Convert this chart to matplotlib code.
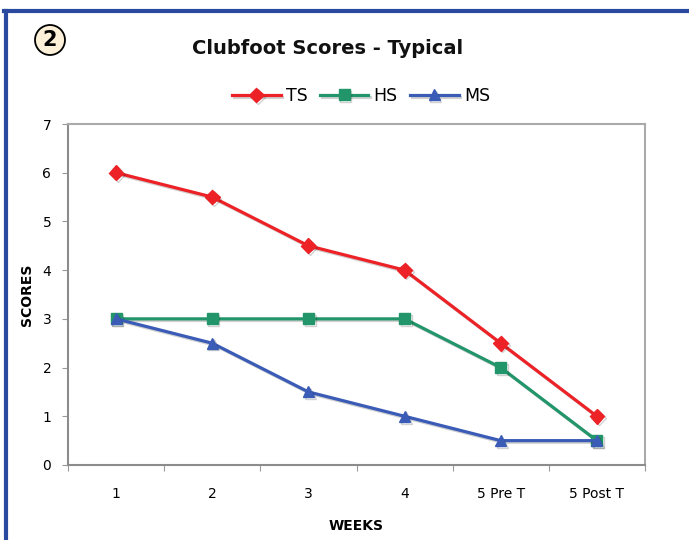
import numpy as np
import matplotlib
matplotlib.use("Agg")
import matplotlib.pyplot as plt
from matplotlib.lines import Line2D
from matplotlib.patches import Ellipse
import matplotlib.patheffects as pe

# datos
weeks = ["1", "2", "3", "4", "5 Pre T", "5 Post T"]
ts = [6, 5.5, 4.5, 4, 2.5, 1]
hs = [3, 3, 3, 3, 2, 0.5]
ms = [3, 2.5, 1.5, 1, 0.5, 0.5]

fig = plt.figure(figsize=(6.89, 5.4), dpi=100)
ax = fig.add_axes([68/689, 75/540, 577/689, 341/540])

x = np.arange(len(weeks)) + 0.5
sombra = [pe.SimpleLineShadow(offset=(1.2, -1.2), alpha=0.18), pe.Normal()]

ax.plot(x, ts, color="#ec2227", lw=2.3, marker="D", ms=7.5, label="TS", path_effects=sombra)
ax.plot(x, hs, color="#22956a", lw=2.3, marker="s", ms=8, label="HS", path_effects=sombra)
ax.plot(x, ms, color="#3b5cb6", lw=2.3, marker="^", ms=8, label="MS", path_effects=sombra)

ax.set_xlim(0, 6)
ax.set_ylim(0, 7)
ax.set_xticks(np.arange(7))
ax.set_xticklabels([])
ax.set_xticks(x, minor=True)
ax.set_xticklabels(weeks, minor=True, fontsize=10)
ax.tick_params(axis="x", which="minor", length=0, pad=16)
ax.tick_params(axis="x", which="major", length=4, color="#999999", direction="out")
ax.set_yticks(range(8))
ax.tick_params(axis="y", labelsize=10, length=4, color="#999999", pad=8)

for s in ["left", "bottom"]:
    ax.spines[s].set_color("#8c8c8c")
    ax.spines[s].set_linewidth(1.5)
for s in ["top", "right"]:
    ax.spines[s].set_color("#aaaaaa")
    ax.spines[s].set_linewidth(1.5)

ax.set_xlabel("WEEKS", fontsize=10, fontweight="bold", labelpad=13)
ax.set_ylabel("SCORES", fontsize=10, fontweight="bold", labelpad=6)

fig.text(328/689, 1 - 48/540, "Clubfoot Scores - Typical", ha="center", va="center",
         fontsize=14, fontweight="bold", color="#111111")

leg = fig.legend(loc="center", bbox_to_anchor=(361/689, 1 - 96/540), ncol=3, frameon=False,
                 fontsize=12.5, handlelength=2.8, columnspacing=0.7, handletextpad=0.3)

# marco azul
fig.add_artist(Line2D([6/689, 6/689], [0, 1 - 11/540], color="#2a4aa0", lw=3))
fig.add_artist(Line2D([4/689, 1], [1 - 11/540, 1 - 11/540], color="#2a4aa0", lw=3))

# circulo con el numero 2
fig.add_artist(Ellipse((50/689, 1 - 40/540), 30/689, 30/540, transform=fig.transFigure,
                       facecolor="#fdf0d8", edgecolor="black", lw=1.3))
fig.text(50/689, 1 - 40/540, "2", ha="center", va="center", fontsize=15, fontweight="bold")

fig.savefig("out.png", dpi=100)
